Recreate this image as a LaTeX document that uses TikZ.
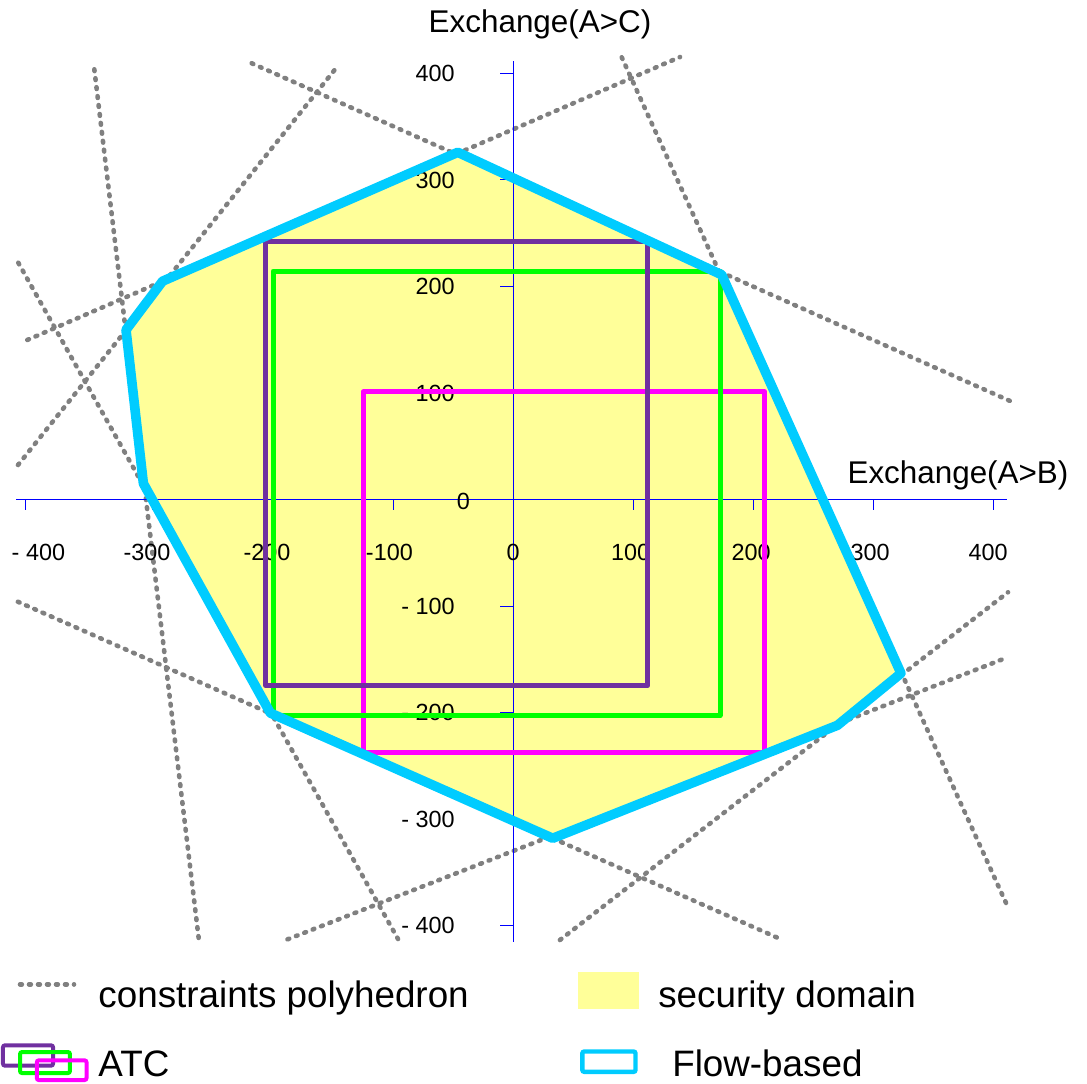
\documentclass[tikz,border=0pt]{standalone}
\usepackage{fontspec}
\setmainfont{Liberation Sans}
\definecolor{flowblue}{HTML}{00CCFF}
\definecolor{atcpurple}{HTML}{7030A0}
\definecolor{atcgreen}{HTML}{00FF00}
\definecolor{atcmagenta}{HTML}{FF00FF}
\definecolor{domainyellow}{HTML}{FFFF99}
\begin{document}
\begin{tikzpicture}[
            x=0.6pt, y=0.5325pt,
            constraint/.style={draw=gray, line width=2.3pt, line cap=round, dash pattern=on 0.9pt off 3.6pt},
            axisline/.style={draw=blue, line width=0.5pt},
            ticklabel/.style={font=\fontsize{11.7}{13}\selectfont, inner sep=0pt},
            axistitle/.style={font=\fontsize{15.7}{18}\selectfont, inner sep=0pt, anchor=base},
            legendtext/.style={font=\fontsize{18.4}{22}\selectfont, inner sep=0pt, anchor=base west},
            atcbox/.style={line width=2.5pt, line join=round},
            flowbased/.style={draw=flowblue, line width=4.8pt, line join=round},
            securitydomain/.style={fill=domainyellow, draw=none},
        ]
            \useasboundingbox (-427.5,-547.9) rectangle (478.3,469.0);

            %Constraints
            \draw[constraint] (-348.9,403.9) -- (-261.75,-413.6);
            \draw[constraint] (-412.25,222.3) -- (-95.8,-412.7);
            \draw[constraint] (-412.5,32.4) -- (-146.7,406.1);
            \draw[constraint] (-404.75,149.8) -- (139.2,415.5);
            \draw[constraint] (-217.75,409.6) -- (415.6,91.8);
            \draw[constraint] (90.6,415.2) -- (411,-379.2);
            \draw[constraint] (-412.6,-96) -- (223.5,-413);
            \draw[constraint] (-187.9,-413) -- (408,-150);
            \draw[constraint] (39.1,-413.6) -- (412.5,-87.1);

            %Domain
            \fill[securitydomain] (-46,326) -- (173.9,211) -- (323.3,-163.2) -- (270.4,-212) -- (33.1,-318.1)
                -- (-202.2,-200.5) -- (-308,15) -- (-322.5,159.3) -- (-292,205) -- cycle;

            %Axes
            \draw[axisline] (-414,0) -- (412,0);
            \draw[axisline] (0,-415.2) -- (0,411.7);
            \draw[axisline] (-406,0) -- (-406,-10.3);
            \draw[axisline] (-300,0) -- (-300,-10.3);
            \draw[axisline] (-200,0) -- (-200,-10.3);
            \draw[axisline] (-100,0) -- (-100,-10.3);
            \draw[axisline] (100,0) -- (100,-10.3);
            \draw[axisline] (200,0) -- (200,-10.3);
            \draw[axisline] (300,0) -- (300,-10.3);
            \draw[axisline] (400,0) -- (400,-10.3);
            \draw[axisline] (0,400) -- (-11,400);
            \draw[axisline] (0,300) -- (-11,300);
            \draw[axisline] (0,200) -- (-11,200);
            \draw[axisline] (0,100) -- (-11,100);
            \draw[axisline] (0,-100) -- (-11,-100);
            \draw[axisline] (0,-200) -- (-11,-200);
            \draw[axisline] (0,-300) -- (-11,-300);
            \draw[axisline] (0,-400) -- (-11,-400);

            %Tick labels
            \node[ticklabel] (xm400) at (-395.5,-50) {- 400};
            \node[ticklabel] (xm300) at (-305,-50) {-300};
            \node[ticklabel] (xm200) at (-205,-50) {-200};
            \node[ticklabel] (xm100) at (-103,-50) {-100};
            \node[ticklabel] (x0) at (0,-50) {0};
            \node[ticklabel] (x100) at (98,-50) {100};
            \node[ticklabel] (x200) at (198.5,-50) {200};
            \node[ticklabel] (x300) at (297.5,-50) {300};
            \node[ticklabel] (x400) at (396,-50) {400};
            \node[ticklabel, anchor=east] (y400) at (-48.3,400) {400};
            \node[ticklabel, anchor=east] (y300) at (-48.3,300) {300};
            \node[ticklabel, anchor=east] (y200) at (-48.3,200) {200};
            \node[ticklabel, anchor=east] (y100) at (-48.3,100) {100};
            \node[ticklabel] (y0) at (-41.4,-2) {0};
            \node[ticklabel, anchor=east] (ym100) at (-48.3,-100) {- 100};
            \node[ticklabel, anchor=east] (ym200) at (-48.3,-200) {- 200};
            \node[ticklabel, anchor=east] (ym300) at (-48.3,-300) {- 300};
            \node[ticklabel, anchor=east] (ym400) at (-48.3,-400) {- 400};

            %Axis titles
            \node[axistitle] (ytitle) at (22.5,438.7) {Exchange(A>C)};
            \node[axistitle] (xtitle) at (370.8,15.2) {Exchange(A>B)};

            %ATC boxes
            \draw[atcbox, draw=atcmagenta] (-124.75,-237.7) rectangle (209.4,101.2);
            \draw[atcbox, draw=atcgreen] (-200,-203) rectangle (172.5,214.5);
            \draw[atcbox, draw=atcpurple] (-206,-174.8) rectangle (112.3,242);

            %Flow-based
            \draw[flowbased] (-46,326) -- (173.9,211) -- (323.3,-163.2) -- (270.4,-212) -- (33.1,-318.1)
                -- (-202.2,-200.5) -- (-308,15) -- (-322.5,159.3) -- (-292,205) -- cycle;

            %Legend
            \draw[constraint] (-410.8,-455.2) -- (-365.8,-455.2);
            \node[legendtext] (legcons) at (-345.75,-476.8) {constraints polyhedron};
            \fill[securitydomain] (54.5,-443.9) rectangle (104.75,-478.4);
            \node[legendtext] (legdomain) at (120.75,-476.8) {security domain};
            \draw[draw=atcpurple, line width=2pt, rounded corners=1pt] (-425,-512.5) rectangle (-383.3,-531.6);
            \draw[draw=atcgreen, line width=2pt, rounded corners=1pt] (-410.8,-518.8) rectangle (-369.2,-538.5);
            \draw[draw=atcmagenta, line width=2pt, rounded corners=1pt] (-396.8,-526.6) rectangle (-355.4,-545.1);
            \node[legendtext] (legatc) at (-345.75,-542) {ATC};
            \draw[draw=flowblue, line width=2.2pt, rounded corners=1pt] (57.75,-518.3) rectangle (102.1,-537.4);
            \node[legendtext] (legflow) at (132.4,-542) {Flow-based};
        \end{tikzpicture}
\end{document}
